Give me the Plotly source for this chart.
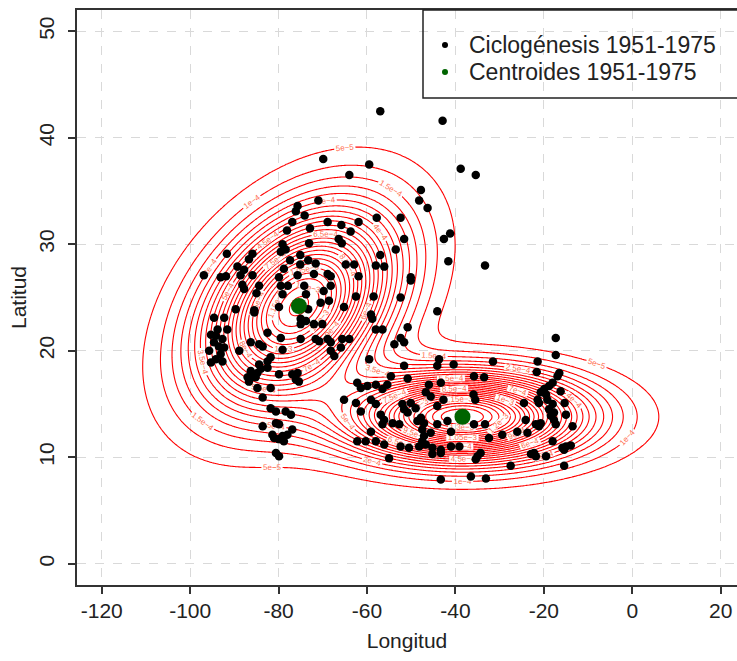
import numpy as np
import plotly.graph_objects as go

# Cyclogenesis points (longitude, latitude)
lon = [
 -69.9,-59.5,-64.0,-71.0,-75.7,-76.1,-74.1,-57.8,-76.9,-68.9,-65.8,-61.9,-72.9,-63.7,-78.1,-66.4,-65.7,-73.1,-79.1,-78.4,
 -79.5,-91.7,-85.9,-77.4,-75.1,-73.3,-71.6,-86.7,-89.3,-87.8,-75.1,-64.8,-62.9,-57.0,-58.0,-56.1,-96.9,-93.1,-91.9,-88.6,
 -85.9,-78.8,-75.7,-72.0,-68.9,-68.2,-61.9,-88.2,-87.8,-84.4,-79.9,-79.5,-77.9,-74.2,-68.2,-62.5,-58.5,-79.1,-73.8,-69.8,
 -85.0,
 -89.7,-85.5,-85.5,-79.9,-73.3,-70.5,-68.6,-65.2,-59.1,-58.8,-58.0,-56.5,-94.6,-92.3,-75.0,-73.8,-75.0,-72.0,-70.1,-93.8,
 -91.6,-95.3,-94.2,-92.7,-82.5,-79.5,-75.0,-71.6,-70.8,-68.9,-68.2,-65.6,-64.0,-86.3,-84.4,-83.6,-94.6,-93.5,-92.3,-95.7,
 -88.9,-79.1,-68.2,-67.4,-65.9,-81.8,-82.5,-94.2,-92.7,-95.3,-93.1,-84.4,-84.0,-84.8,-85.2,-86.3,-85.9,-87.0,-86.7,-82.5,
 -79.9,-76.9,-75.7,-75.4,-76.1,-84.8,-81.8,-83.6,-81.8,-80.6,-78.4,-77.2,-80.6,-79.9,-83.6,-76.9,-81.4,-79.1,-78.0,-81.0,
 -79.9,-78.8,-80.6,-79.9,
 -59.5,-62.2,-61.4,-59.9,-58.0,-56.5,-55.4,-65.2,-62.5,-61.4,-59.1,-58.0,-56.9,-56.1,-56.5,-59.1,-62.2,-60.3,-58.0,-56.1,
 -57.0,-42.9,-38.8,-35.4,-47.8,-48.2,-46.3,-52.4,-51.6,-41.2,-42.6,-53.5,-41.6,-33.3,-50.1,-50.1,-52.4,-44.1,-50.8,-52.4,
 -53.8,-51.6,-51.6,-43.7,-44.1,-40.4,-31.5,-54.6,-50.8,-46.0,-43.3,-46.7,-45.6,-35.8,-33.5,-35.9,-35.5,-42.7,-44.1,-50.1,
 -52.0,-49.0,-51.6,-50.8,-24.5,-54.2,-52.7,-47.8,-48.6,-47.1,-41.8,-44.1,-35.8,-33.3,-24.1,-47.5,-47.1,-45.6,-47.5,-41.0,
 -32.4,-29.4,-26.0,-23.7,-52.4,-50.5,-48.2,-46.7,-45.2,-43.3,-41.0,-39.1,-45.2,-43.3,-35.0,-35.4,-34.3,-55.0,-27.5,-36.5,
 -33.1,-43.3,-22.9,
 -17.3,-17.3,-21.4,-21.6,-16.5,-16.9,-18.0,-18.8,-19.9,-20.7,-19.5,-16.2,-21.4,-21.1,-19.2,-18.0,-15.3,-18.8,-17.7,-15.0,
 -18.4,-17.7,-17.3,-13.5,-21.8,-20.7,-21.1,-18.0,-15.0,-13.9,-15.8,-15.4,-22.2,-21.8,-19.5,-15.4,
]
lat = [
 38.0,37.5,36.5,34.1,33.6,33.1,32.7,32.5,32.1,32.1,31.8,32.1,31.5,31.2,31.3,30.5,30.1,30.1,30.0,29.5,
 29.3,29.1,29.1,28.5,29.0,28.5,28.2,28.6,27.9,27.6,28.1,28.1,28.1,29.0,28.0,27.9,27.1,26.9,27.0,27.1,
 27.1,27.7,27.1,27.2,27.2,27.0,27.0,26.2,25.8,26.1,26.9,26.1,26.1,26.1,26.1,25.1,25.1,25.3,25.3,25.6,
 25.4,
 23.9,23.8,23.6,24.1,23.9,24.5,24.7,24.1,23.4,23.0,22.0,22.0,23.1,23.1,23.0,22.8,22.5,22.5,22.5,22.0,
 22.0,21.5,21.4,21.1,21.7,21.2,21.1,21.1,20.9,21.1,20.8,21.1,21.1,20.8,20.6,20.4,20.8,20.4,20.3,20.0,
 20.0,20.1,20.0,19.5,20.3,19.4,19.0,19.2,19.0,18.9,19.7,18.7,18.3,17.9,17.5,18.1,17.6,17.5,17.1,18.4,
 17.8,17.8,17.9,17.1,17.3,16.5,16.5,15.6,14.6,14.3,14.3,14.0,13.2,13.1,12.9,12.6,12.1,12.0,12.1,11.8,
 11.7,11.5,10.4,10.1,
 19.2,17.0,16.5,16.7,16.8,16.4,16.8,15.4,15.1,14.3,15.4,15.0,14.0,13.5,13.1,12.4,11.5,11.5,11.5,11.2,
 42.5,41.6,37.1,36.5,35.1,34.1,33.4,32.5,30.5,31.0,30.5,29.5,28.4,28.0,26.9,26.6,25.0,23.7,22.2,21.2,
 20.6,20.8,18.6,19.2,18.6,18.7,19.0,17.6,17.4,16.8,17.0,16.1,15.7,17.6,17.5,15.9,15.4,15.4,14.8,15.1,
 15.0,14.6,14.5,14.2,15.1,13.2,13.1,13.7,13.4,13.2,13.4,13.1,13.1,13.1,13.5,12.6,12.0,12.3,11.5,12.4,
 11.8,12.1,12.4,12.3,11.0,10.9,11.0,11.2,10.9,10.7,11.0,11.0,10.3,10.4,10.1,9.8,10.4,9.9,9.2,8.2,
 8.0,7.9,10.3,
 21.2,19.6,19.0,18.0,17.9,17.6,17.0,16.7,16.4,16.1,15.9,16.2,15.4,15.1,15.4,15.0,15.1,14.5,14.2,14.0,
 13.9,13.5,13.1,12.9,13.1,13.2,12.9,11.5,11.0,11.1,10.9,10.7,10.4,10.1,10.1,9.2,
]
# Centroids
cen_lon = [-75.4, -38.4]
cen_lat = [24.2, 13.8]

# Two-component Gaussian mixture behind the density contours
comp_w = [0.6, 0.4]
comp_sx = [13.9, 17.2]
comp_sy = [5.87, 2.64]
comp_rho = [0.38, 0.0]

x_ticks = [-120, -100, -80, -60, -40, -20, 0, 20]
x_ticktext = ["-120", "-100", "-80", "-60", "-40", "-20", "0", "20"]
y_ticks = [0, 10, 20, 30, 40, 50]

legend_names = ["Ciclogénesis 1951-1975", "Centroides 1951-1975"]
legend_colors = ["black", "#006400"]

gx = np.linspace(-125, 25, 401)
gy = np.linspace(-2, 52, 271)
GX, GY = np.meshgrid(gx, gy)
dens = np.zeros_like(GX)
for w, mx, my, sx, sy, r in zip(comp_w, cen_lon, cen_lat, comp_sx, comp_sy, comp_rho):
    dx = (GX - mx) / sx
    dy = (GY - my) / sy
    q = (dx ** 2 - 2 * r * dx * dy + dy ** 2) / (1 - r ** 2)
    dens += w * np.exp(-0.5 * q) / (2 * np.pi * sx * sy * np.sqrt(1 - r ** 2))

fig = go.Figure()
fig.add_trace(go.Contour(
    x=gx, y=gy, z=dens, showscale=False, hoverinfo="skip",
    colorscale=[[0, "#ff0000"], [1, "#ff0000"]],
    contours=dict(coloring="lines", start=5e-5, end=float(dens.max()), size=5e-5,
                  showlabels=True, labelformat=".2~e",
                  labelfont=dict(size=8, color="#ff6a4d", family="Liberation Sans")),
    line=dict(width=1.1), showlegend=False,
))
fig.add_trace(go.Scatter(x=lon, y=lat, mode="markers", showlegend=False,
                         marker=dict(color="black", size=8.5)))
fig.add_trace(go.Scatter(x=cen_lon, y=cen_lat, mode="markers", showlegend=False,
                         marker=dict(color="#006400", size=16)))

# Legend drawn in pixel-matched paper coordinates
W, H, L, R, T, B = 737, 661, 77, 0, 10, 76
pw, ph = W - L - R, H - T - B
def pxx(p):
    return (p - L) / pw
def pxy(p):
    return (H - B - p) / ph

shapes = [dict(type="rect", xref="paper", yref="paper", x0=pxx(423), x1=pxx(745),
               y0=pxy(98), y1=pxy(10), line=dict(color="#222222", width=1.5))]
annotations = []
for i, (nm, col) in enumerate(zip(legend_names, legend_colors)):
    yrow = 45 + 27 * i
    shapes.append(dict(type="circle", xref="paper", yref="paper", xsizemode="pixel", ysizemode="pixel",
                       xanchor=pxx(445), yanchor=pxy(yrow), x0=-3, x1=3, y0=-3, y1=3,
                       fillcolor=col, line=dict(color=col, width=0)))
    annotations.append(dict(text=nm, xref="paper", yref="paper", x=pxx(467), y=pxy(yrow),
                            xanchor="left", yanchor="middle", showarrow=False,
                            font=dict(size=23, color="#222222", family="Liberation Sans")))

axis_common = dict(showline=True, linecolor="#333333", linewidth=1.5,
                   ticks="outside", ticklen=7, tickwidth=1.5, tickcolor="#333333",
                   showgrid=True, gridcolor="#d9d9d9", griddash="dash", gridwidth=1,
                   zeroline=False, tickfont=dict(size=21, color="#222222", family="Liberation Sans"))
fig.update_layout(
    width=W, height=H, showlegend=False,
    margin=dict(l=L, r=R, t=T, b=B),
    paper_bgcolor="white", plot_bgcolor="white",
    font=dict(family="Liberation Sans", color="#222222"),
    xaxis=dict(range=[-125.6, 23.7], tickvals=x_ticks, ticktext=x_ticktext, mirror=True,
               ticklabelstandoff=-1,
               title=dict(text="Longitud", font=dict(size=21), standoff=12), **axis_common),
    yaxis=dict(range=[-2, 52], tickvals=y_ticks, tickangle=-90, ticklabelstandoff=6,
               title=dict(text="Latitud", font=dict(size=21), standoff=2), **axis_common),
    shapes=shapes, annotations=annotations,
)
fig.write_html("out.html")
